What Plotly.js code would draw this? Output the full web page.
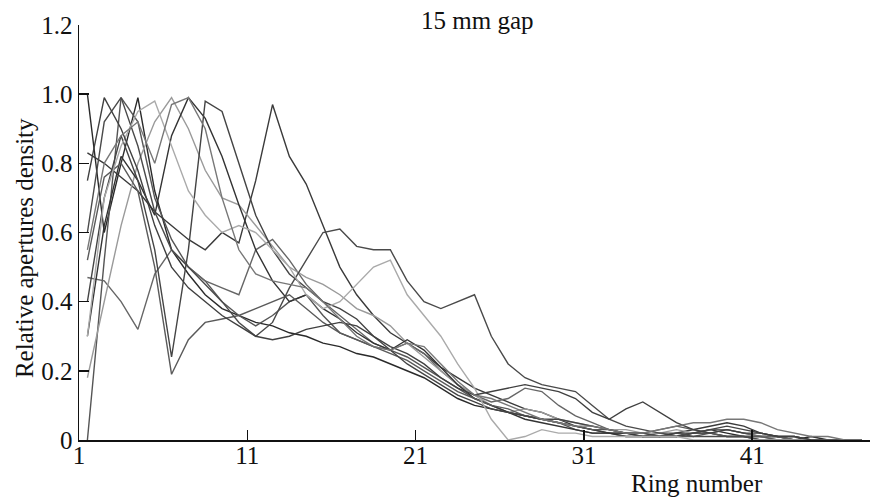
<!DOCTYPE html>
<html>
<head>
<meta charset="utf-8">
<script src="https://cdn.plot.ly/plotly-3.0.1.min.js"></script>
<style>html,body{margin:0;padding:0;background:#fff;}#chart{width:870px;height:498px;}</style>
</head>
<body>
<div id="chart"></div>
<script>
const ring = [1,2,3,4,5,6,7,8,9,10,11,12,13,14,15,16,17,18,19,20,21,22,23,24,25,26,27,28,29,30,31,32,33,34,35,36,37,38,39,40,41,42,43,44,45,46,47];
const tickPos = [0.5,10.5,20.5,30.5,40.5];
const tickText = ["1","11","21","31","41"];
const yTicks = [0,0.2,0.4,0.6,0.8,1.0,1.2];
const yTickText = ["0","0.2","0.4","0.6","0.8","1.0","1.2"];

const s1 = [1.00,0.60,0.80,0.99,0.72,0.55,0.48,0.42,0.38,0.36, 0.34,0.33,0.31,0.30,0.28,0.27,0.25,0.24,0.22,0.20, 0.18,0.15,0.12,0.10,0.09,0.08,0.07,0.06,0.05,0.04, 0.03,0.02,0.02,0.01,0.01,0.02,0.02,0.03,0.02,0.01, 0.01,0.01,0.00,0.01,0.00,0.00,0.00];
const s2 = [0.00,0.52,0.99,0.92,0.70,0.58,0.50,0.46,0.40,0.36, 0.33,0.36,0.40,0.42,0.36,0.31,0.29,0.27,0.26,0.24, 0.21,0.18,0.15,0.12,0.10,0.08,0.07,0.06,0.05,0.03, 0.02,0.02,0.01,0.01,0.02,0.01,0.01,0.02,0.03,0.02, 0.01,0.01,0.00,0.00,0.00,0.00,0.00];
const s3 = [0.83,0.80,0.76,0.72,0.66,0.62,0.58,0.55,0.60,0.57, 0.75,0.97,0.82,0.74,0.62,0.50,0.42,0.36,0.31,0.28, 0.25,0.21,0.18,0.15,0.13,0.11,0.09,0.08,0.06,0.04, 0.03,0.02,0.02,0.01,0.01,0.02,0.03,0.04,0.05,0.04, 0.02,0.01,0.01,0.00,0.00,0.00,0.00];
const s4 = [0.47,0.46,0.40,0.32,0.48,0.55,0.50,0.46,0.44,0.42, 0.55,0.58,0.52,0.45,0.40,0.36,0.32,0.28,0.26,0.28, 0.25,0.20,0.16,0.13,0.11,0.12,0.15,0.14,0.10,0.07, 0.05,0.03,0.02,0.02,0.01,0.01,0.02,0.03,0.03,0.02, 0.01,0.01,0.00,0.00,0.00,0.00,0.00];
const s5 = [0.18,0.40,0.62,0.80,0.92,0.99,0.90,0.78,0.70,0.68, 0.62,0.56,0.50,0.47,0.45,0.42,0.38,0.36,0.33,0.28, 0.24,0.20,0.16,0.13,0.10,0.08,0.09,0.08,0.06,0.05, 0.04,0.03,0.03,0.02,0.02,0.03,0.02,0.02,0.01,0.01, 0.01,0.00,0.00,0.00,0.00,0.00,0.00];
const s6 = [0.30,0.62,0.82,0.75,0.65,0.88,0.99,0.93,0.82,0.68, 0.55,0.46,0.40,0.42,0.38,0.35,0.31,0.28,0.26,0.29, 0.26,0.21,0.16,0.12,0.10,0.08,0.06,0.05,0.04,0.03, 0.02,0.02,0.01,0.01,0.01,0.01,0.02,0.02,0.01,0.01, 0.00,0.00,0.00,0.00,0.00,0.00,0.00];
const s7 = [0.52,0.76,0.80,0.72,0.50,0.19,0.29,0.34,0.35,0.36, 0.38,0.40,0.42,0.38,0.34,0.31,0.29,0.27,0.25,0.23, 0.20,0.17,0.14,0.12,0.10,0.09,0.07,0.06,0.05,0.04, 0.03,0.03,0.02,0.02,0.03,0.04,0.03,0.02,0.01,0.01, 0.01,0.00,0.00,0.00,0.00,0.00,0.00];
const s8 = [0.40,0.70,0.88,0.75,0.55,0.24,0.55,0.98,0.95,0.80, 0.65,0.55,0.48,0.44,0.40,0.38,0.35,0.30,0.26,0.22, 0.19,0.16,0.13,0.11,0.09,0.08,0.07,0.06,0.06,0.05, 0.04,0.03,0.02,0.02,0.01,0.01,0.02,0.03,0.04,0.03, 0.02,0.01,0.01,0.00,0.00,0.00,0.00];
const s9 = [0.60,0.92,0.99,0.85,0.66,0.55,0.50,0.45,0.40,0.34, 0.30,0.34,0.44,0.52,0.60,0.61,0.56,0.55,0.55,0.46, 0.40,0.38,0.40,0.42,0.30,0.22,0.18,0.16,0.15,0.14, 0.10,0.06,0.04,0.03,0.02,0.02,0.01,0.01,0.01,0.01, 0.00,0.00,0.00,0.00,0.00,0.00,0.00];
const s10 = [0.30,0.70,0.85,0.95,0.98,0.85,0.72,0.65,0.60,0.62, 0.60,0.55,0.50,0.42,0.38,0.40,0.45,0.50,0.52,0.42, 0.36,0.30,0.22,0.15,0.06,0.00,0.01,0.03,0.02,0.02, 0.01,0.01,0.01,0.01,0.01,0.01,0.00,0.00,0.00,0.00, 0.00,0.00,0.00,0.00,0.00,0.00,0.00];
const s11 = [0.75,0.99,0.90,0.78,0.62,0.50,0.44,0.40,0.36,0.33, 0.30,0.29,0.30,0.32,0.33,0.34,0.33,0.30,0.27,0.25, 0.22,0.18,0.15,0.13,0.14,0.15,0.16,0.15,0.14,0.12, 0.08,0.06,0.09,0.11,0.08,0.05,0.03,0.02,0.03,0.02, 0.02,0.01,0.01,0.00,0.00,0.00,0.00];
const s12 = [0.55,0.80,0.88,0.92,0.80,0.97,0.99,0.90,0.70,0.55, 0.48,0.46,0.45,0.44,0.40,0.35,0.30,0.27,0.26,0.28, 0.27,0.22,0.17,0.13,0.12,0.10,0.08,0.06,0.05,0.04, 0.04,0.03,0.02,0.02,0.03,0.04,0.05,0.05,0.06,0.06, 0.05,0.03,0.02,0.01,0.01,0.00,0.00];

const series = [s1,s2,s3,s4,s5,s6,s7,s8,s9,s10,s11,s12];
const colors = ["#2a2a2a","#555555","#3a3a3a","#666666","#9a9a9a","#333333","#5a5a5a","#444444","#4a4a4a","#aaaaaa","#404040","#777777"];

const traces = series.map((s,k)=>({
  x: ring, y: s, type: "scatter", mode: "lines",
  line: {color: colors[k], width: 1.4},
  hoverinfo: "skip", showlegend: false
}));

const font = {family: "Liberation Serif, Times New Roman, serif", size: 25, color: "#111"};

const layout = {
  width: 870, height: 498,
  margin: {l: 79, r: 0, t: 25, b: 58},
  paper_bgcolor: "#fff", plot_bgcolor: "#fff",
  font: font,
  showlegend: false,
  xaxis: {
    range: [0.5, 47.5], tickmode: "array", tickvals: tickPos, ticktext: tickText,
    ticks: "inside", ticklen: 10, tickwidth: 1.5, tickcolor: "#111",
    showline: true, linecolor: "#111", linewidth: 1.5,
    showgrid: false, zeroline: false, tickfont: font, ticklabelstandoff: -8
  },
  yaxis: {
    range: [0, 1.2], tickmode: "array", tickvals: yTicks, ticktext: yTickText,
    ticks: "inside", ticklen: 10, tickwidth: 1.5, tickcolor: "#111",
    showline: true, linecolor: "#111", linewidth: 1.5,
    showgrid: false, zeroline: false, tickfont: font
  },
  annotations: [
    {text: "15 mm gap", xref: "paper", yref: "paper", x: 0.504, y: 1.01, xanchor: "center", yanchor: "middle", showarrow: false, font: font},
    {text: "Ring number", xref: "paper", yref: "paper", x: 0.781, y: -0.104, xanchor: "center", yanchor: "middle", showarrow: false, font: font},
    {text: "Relative apertures density", xref: "paper", yref: "paper", x: -0.068, y: 0.463, xanchor: "center", yanchor: "middle", textangle: -90, showarrow: false, font: font}
  ]
};

Plotly.newPlot("chart", traces, layout, {displayModeBar: false, staticPlot: true});
</script>
</body>
</html>
